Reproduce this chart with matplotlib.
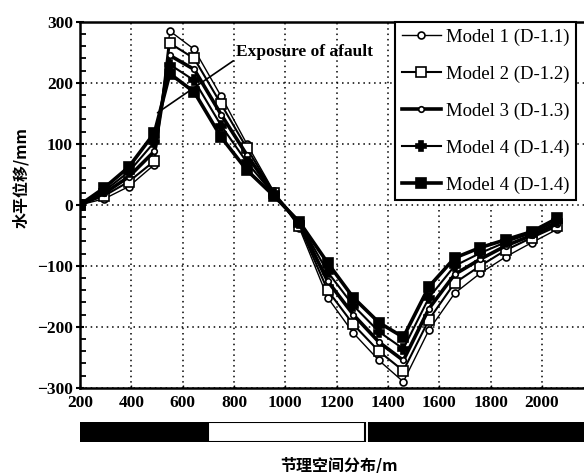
import matplotlib.pyplot as plt
import numpy as np
from matplotlib.patches import Rectangle
from matplotlib.ticker import MultipleLocator

# horizontal position along the section (m)
x_pos = [200, 295, 390, 490, 550, 645, 750, 850, 955, 1055,
         1165, 1265, 1365, 1460, 1560, 1660, 1760, 1860, 1960, 2060]

# horizontal displacement (mm)
model1 = [0, 10, 30, 66, 285, 255, 178, 100, 22, -38,
          -152, -210, -255, -290, -205, -145, -112, -85, -62, -40]
model2 = [0, 15, 38, 72, 265, 240, 165, 93, 20, -34,
          -140, -196, -240, -272, -188, -128, -100, -74, -54, -35]
model3 = [0, 19, 46, 88, 245, 222, 148, 82, 18, -31,
          -125, -180, -225, -255, -170, -114, -89, -67, -50, -31]
model4a = [0, 23, 54, 103, 230, 204, 130, 70, 17, -29,
           -110, -165, -208, -236, -152, -100, -79, -61, -46, -27]
model4b = [0, 28, 62, 118, 215, 185, 111, 57, 15, -28,
           -95, -152, -193, -217, -134, -87, -70, -57, -44, -22]

labels = ["Model 1 (D-1.1)", "Model 2 (D-1.2)", "Model 3 (D-1.3)",
          "Model 4 (D-1.4)", "Model 4 (D-1.4)"]

# joint zones along the bottom strip: (start, end, fill)
zones = [(200, 700, "black"), (700, 1310, "white"), (1325, 2200, "black")]

plt.rcParams['font.family'] = ['Liberation Serif', 'DejaVu Sans']
cjk = ['Noto Sans CJK SC', 'DejaVu Sans']

fig = plt.figure(figsize=(5.84, 4.73), dpi=100)
ax = fig.add_axes([0.137, 0.180, 0.870, 0.7738])

styles = [
    dict(marker='o', ms=5, mfc='white', lw=1.0),
    dict(marker='s', ms=7, mfc='white', lw=1.5),
    dict(marker='o', ms=4, mfc='white', lw=2.6),
    dict(marker='P', ms=7, mfc='black', lw=1.5),
    dict(marker='s', ms=7.5, mfc='black', lw=2.6),
]
for ys, lab, st in zip([model1, model2, model3, model4a, model4b], labels, styles):
    ax.plot(x_pos, ys, color='black', mec='black', mew=1.2, label=lab, **st)

ax.set_xlim(200, 2180)
ax.set_ylim(-300, 300)
ax.xaxis.set_major_locator(MultipleLocator(200))
ax.yaxis.set_major_locator(MultipleLocator(100))
ax.yaxis.set_minor_locator(MultipleLocator(20))
ax.tick_params(axis='y', which='major', direction='inout', length=6, width=1.5, pad=2)
ax.tick_params(axis='y', which='minor', direction='in', length=4, width=1.3)
ax.tick_params(axis='x', which='major', direction='in', length=2, width=1.0, pad=5)
for lab in ax.get_xticklabels() + ax.get_yticklabels():
    lab.set_fontweight('bold')
    lab.set_fontsize(12.5)

ax.grid(True, which='major', color='black', linestyle=(0, (1, 2.5)), linewidth=1.1)
for side in ['top', 'left', 'bottom']:
    ax.spines[side].set_linewidth(1.8)
ax.spines['right'].set_visible(False)

ax.annotate("Exposure of afault", xy=(502, 151), xytext=(808, 251),
            fontsize=12.5, fontweight='bold', va='center', ha='left',
            arrowprops=dict(arrowstyle='-', color='black', lw=1.2,
                            shrinkA=0, shrinkB=0,
                            relpos=(0, 0.05)))

leg = ax.legend(loc='upper right', bbox_to_anchor=(0.976, 1.0), fontsize=13.5,
                frameon=True, fancybox=False, edgecolor='black',
                labelspacing=1.05, handlelength=2.1, handletextpad=0.25,
                borderpad=0.35, borderaxespad=0.0)
leg.get_frame().set_linewidth(1.5)
leg.get_frame().set_alpha(1)

ax.set_ylabel("水平位移/mm", family=cjk, fontsize=11.5, fontweight='bold')
ax.yaxis.set_label_coords(-0.1, 0.574)

# joint distribution strip
bx = fig.add_axes([0.137, 0.0655, 0.870, 0.0423])
bx.set_xlim(200, 2180)
bx.set_ylim(0, 1)
for x0, x1, col in zones:
    bx.add_patch(Rectangle((x0, 0), x1 - x0, 1, facecolor=col,
                           edgecolor='black', lw=1.5))
bx.axis('off')

fig.text(0.58, 0.017, "节理空间分布/m", family=cjk, fontsize=11.5,
         fontweight='bold', ha='center', va='center')

fig.savefig("out.png", dpi=100)
